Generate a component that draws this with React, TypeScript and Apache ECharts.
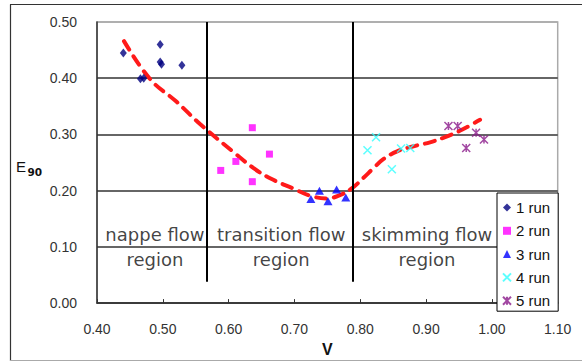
import React, { useEffect, useRef } from "react";
import * as echarts from "echarts";

// Data
const run1V = [0.440, 0.466, 0.471, 0.496, 0.496, 0.498, 0.529];
const run1E = [0.445, 0.399, 0.400, 0.460, 0.429, 0.425, 0.423];
const run2V = [0.588, 0.611, 0.636, 0.636, 0.662];
const run2E = [0.236, 0.252, 0.312, 0.216, 0.265];
const run3V = [0.725, 0.738, 0.751, 0.764, 0.778];
const run3E = [0.185, 0.200, 0.181, 0.202, 0.188];
const run4V = [0.811, 0.824, 0.848, 0.862, 0.876];
const run4E = [0.272, 0.295, 0.238, 0.275, 0.276];
const run5V = [0.934, 0.948, 0.961, 0.976, 0.988];
const run5E = [0.315, 0.315, 0.276, 0.303, 0.291];

const trendV = [0.441, 0.481, 0.521, 0.557, 0.607, 0.638, 0.663, 0.698, 0.724, 0.749, 0.769, 0.787, 0.805, 0.820, 0.835, 0.856, 0.881, 0.906, 0.926, 0.952, 0.982];
const trendE = [0.466, 0.398, 0.358, 0.318, 0.269, 0.240, 0.222, 0.204, 0.191, 0.186, 0.192, 0.204, 0.223, 0.240, 0.256, 0.270, 0.279, 0.286, 0.294, 0.307, 0.326];

const seriesNames = ["1 run", "2 run", "3 run", "4 run", "5 run"];
const regionBounds = [0.566, 0.789];
const regionLineBottom = 0.038;
const regionNames = ["nappe flow\nregion", "transition flow\nregion", "skimming flow\nregion"];
const regionCenterV = [0.488, 0.680, 0.9015];
const regionCenterE = [0.10, 0.10, 0.10];

const xTicks = { min: 0.4, max: 1.1, interval: 0.1 };
const yTicks = { min: 0, max: 0.5, interval: 0.1 };

const zip = (a: number[], b: number[]) => a.map((v, i) => [v, b[i]]);

const X_PATH = "path://M0,0L10,10M10,0L0,10";
const STAR_PATH = "path://M0,0L10,10M10,0L0,10M5,0L5,10";

export default function App() {
  const ref = useRef<HTMLDivElement>(null);
  useEffect(() => {
    if (!ref.current) return;
    const chart = echarts.init(ref.current, null, { renderer: "svg" });
    const labelFont = "Liberation Sans";
    chart.setOption({
      animation: false,
      backgroundColor: "#fff",
      grid: {
        left: 97,
        top: 22,
        width: 460.7,
        height: 283.7,
        show: true,
        borderColor: "#aaa",
        borderWidth: 1.5,
      },
      xAxis: {
        type: "value",
        min: xTicks.min,
        max: xTicks.max,
        interval: xTicks.interval,
        name: "V",
        nameLocation: "middle",
        nameGap: 35,
        nameTextStyle: { fontSize: 16, fontWeight: "bold", color: "#111", fontFamily: labelFont },
        axisLine: { show: true, onZero: false, lineStyle: { color: "#333", width: 1.5 } },
        axisTick: { show: true, inside: true, length: 4, lineStyle: { color: "#333" } },
        axisLabel: {
          margin: 19,
          fontSize: 14,
          color: "#333",
          fontFamily: labelFont,
          formatter: (v: number) => v.toFixed(2),
        },
        splitLine: { show: false },
      },
      yAxis: {
        type: "value",
        min: yTicks.min,
        max: yTicks.max,
        interval: yTicks.interval,
        axisLine: { show: true, lineStyle: { color: "#333", width: 1.5 } },
        axisTick: { show: false },
        axisLabel: {
          margin: 20,
          fontSize: 14,
          color: "#333",
          fontFamily: labelFont,
          formatter: (v: number) => v.toFixed(2),
        },
        splitLine: {
          show: true,
          lineStyle: { color: ["#333", "#333", "#333", "#333", "#333", "#aaa"], width: 1.5 },
        },
      },
      legend: {
        data: seriesNames,
        orient: "vertical",
        left: 497,
        top: 193,
        itemWidth: 8,
        itemHeight: 8,
        itemGap: 8.3,
        padding: [7, 8, 3, 5],
        backgroundColor: "#fff",
        borderColor: "#000",
        borderWidth: 1,
        textStyle: { fontSize: 15, lineHeight: 14, color: "#111", fontFamily: labelFont },
      },
      graphic: [
        { type: "line", shape: { x1: 10, y1: 4.5, x2: 582, y2: 4.5 }, style: { stroke: "#333", lineWidth: 1.2 }, silent: true },
        { type: "line", shape: { x1: 10.5, y1: 4.5, x2: 10.5, y2: 361 }, style: { stroke: "#333", lineWidth: 1.2 }, silent: true },
        { type: "line", shape: { x1: 10, y1: 360.5, x2: 582, y2: 360.5 }, style: { stroke: "#aaa", lineWidth: 1.2 }, silent: true },
        {
          type: "text",
          left: 16,
          top: 159,
          style: { text: "E", fontSize: 15, fontFamily: labelFont, fill: "#111" },
        },
        {
          type: "text",
          left: 27.5,
          top: 166.5,
          style: { text: "90", fontSize: 10.5, fontWeight: "bold", fontFamily: "DejaVu Sans", fill: "#111" },
        },
      ],
      series: [
        {
          name: "regions",
          type: "scatter",
          silent: true,
          symbolSize: 1,
          itemStyle: { color: "rgba(0,0,0,0)" },
          data: regionCenterV.map((v, i) => ({ value: [v, regionCenterE[i]], name: regionNames[i] })),
          label: {
            show: true,
            position: "inside",
            formatter: (p: any) => p.name,
            fontSize: 18,
            lineHeight: 25,
            fontFamily: "DejaVu Sans",
            color: "#111",
            align: "center",
            verticalAlign: "middle",
          },
          markLine: {
            silent: true,
            symbol: ["none", "none"],
            label: { show: false },
            lineStyle: { color: "#000", width: 2, type: "solid" },
            data: regionBounds.map((b) => [
              { coord: [b, regionLineBottom] },
              { coord: [b, yTicks.max] },
            ]),
          },
          z: 1,
        },
        {
          name: "trend",
          type: "line",
          data: zip(trendV, trendE),
          smooth: 0.4,
          symbol: "none",
          silent: true,
          lineStyle: { color: "#ff1a1a", width: 4, type: [10, 8], cap: "round" },
          z: 3,
        },
        {
          name: seriesNames[0],
          type: "scatter",
          symbol: "diamond",
          symbolSize: [7, 9],
          itemStyle: { color: "#000080" },
          data: zip(run1V, run1E),
          z: 4,
        },
        {
          name: seriesNames[1],
          type: "scatter",
          symbol: "rect",
          symbolSize: 7,
          itemStyle: { color: "#ff00ff" },
          data: zip(run2V, run2E),
          z: 4,
        },
        {
          name: seriesNames[2],
          type: "scatter",
          symbol: "triangle",
          symbolSize: [9, 8],
          itemStyle: { color: "#0000ff" },
          data: zip(run3V, run3E),
          z: 4,
        },
        {
          name: seriesNames[3],
          type: "scatter",
          symbol: X_PATH,
          symbolSize: 8,
          itemStyle: { color: "#33ffff", borderColor: "#33ffff", borderWidth: 1.5 },
          data: zip(run4V, run4E),
          z: 4,
        },
        {
          name: seriesNames[4],
          type: "scatter",
          symbol: STAR_PATH,
          symbolSize: 8,
          itemStyle: { color: "#8b1a8b", borderColor: "#8b1a8b", borderWidth: 1.5 },
          data: zip(run5V, run5E),
          z: 4,
        },
      ],
    });
    return () => chart.dispose();
  }, []);
  return (
    <div
      ref={ref}
      style={{ position: "fixed", left: 0, top: 0, width: 582, height: 362 }}
    />
  );
}
